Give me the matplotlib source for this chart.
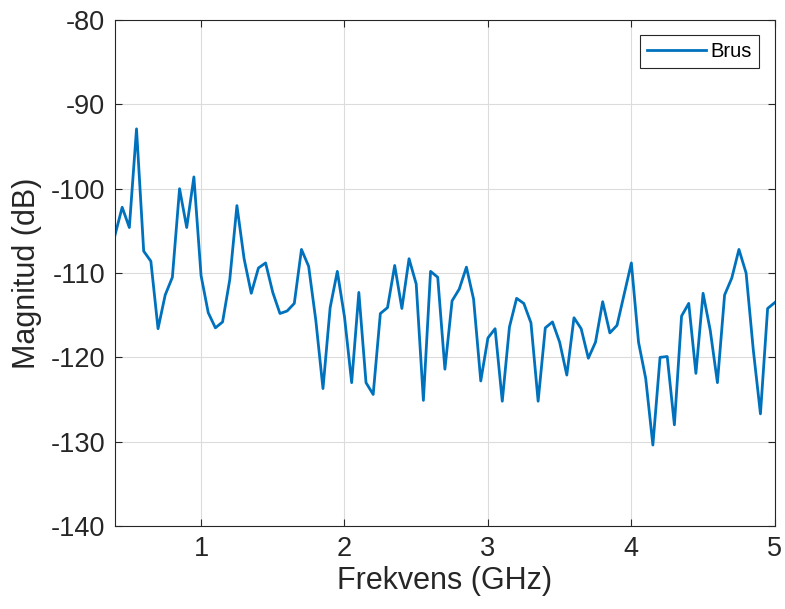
import matplotlib.pyplot as plt
import numpy as np

plt.rcParams['font.family'] = ['Liberation Sans', 'DejaVu Sans']
plt.rcParams['axes.unicode_minus'] = False

# frequency points (GHz), 0.05 GHz step
freq = np.round(np.arange(0.4, 5.0001, 0.05), 2)
# noise magnitude (dB)
brus = [-105.5, -102.2, -104.6, -92.9, -107.4, -108.6, -116.6, -112.6, -110.5, -100.0,
        -104.6, -98.6, -110.3, -114.7, -116.5, -115.8, -110.8, -102.0, -108.3, -112.4,
        -109.4, -108.8, -112.3, -114.8, -114.5, -113.6, -107.2, -109.2, -115.6, -123.7,
        -114.1, -109.8, -115.2, -123.0, -112.3, -123.0, -124.4, -114.8, -114.1, -109.1,
        -114.2, -108.3, -111.3, -125.1, -109.8, -110.5, -121.4, -113.3, -111.9, -109.3,
        -113.1, -122.8, -117.7, -116.6, -125.2, -116.4, -113.0, -113.6, -115.9, -125.2,
        -116.5, -115.8, -118.2, -122.1, -115.3, -116.6, -120.1, -118.2, -113.4, -117.1,
        -116.2, -112.5, -108.8, -118.2, -122.5, -130.4, -120.0, -119.9, -128.0, -115.1,
        -113.6, -121.9, -112.4, -116.8, -123.0, -112.6, -110.6, -107.2, -110.0, -119.1,
        -126.7, -114.2, -113.5]

xticks = [1, 2, 3, 4, 5]
yticks = [-140, -130, -120, -110, -100, -90, -80]

fig = plt.figure(figsize=(7.85, 6.09), dpi=100)
ax = fig.add_axes([0.1465, 0.1363, 0.8405, 0.8307])

ax.plot(freq, brus, color='#0072BD', linewidth=2, label='Brus')

ax.set_xlim(0.4, 5)
ax.set_ylim(-140, -80)
ax.set_xticks(xticks)
ax.set_yticks(yticks)
ax.grid(True, color='#dcdcdc', linewidth=0.8)
ax.set_axisbelow(True)

axcol = '#262626'
for s in ax.spines.values():
    s.set_color(axcol)
    s.set_linewidth(0.8)
ax.tick_params(direction='in', top=True, right=True, length=5, width=0.8,
               colors=axcol, labelsize=19.5, pad=7)
ax.set_xlabel('Frekvens (GHz)', fontsize=22, color=axcol, labelpad=3)
ax.set_ylabel('Magnitud (dB)', fontsize=22, color=axcol, labelpad=6)

leg = ax.legend(loc='upper right', fontsize=14.5, fancybox=False, framealpha=1,
                edgecolor=axcol, handlelength=2.9, handletextpad=0.25,
                borderpad=0.35, borderaxespad=0,
                bbox_to_anchor=(0.976, 0.970))
leg.get_frame().set_linewidth(0.8)

fig.savefig('out.png', dpi=100)
